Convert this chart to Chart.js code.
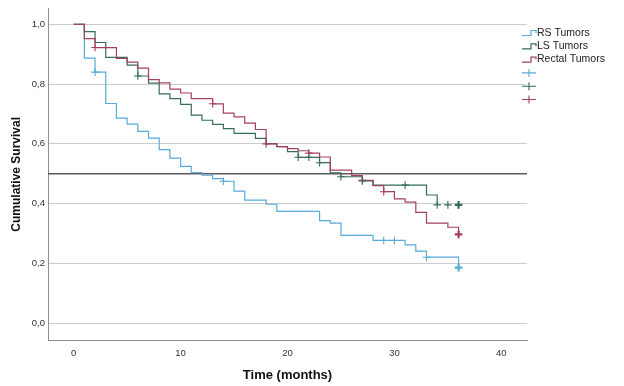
<!DOCTYPE html>
<html>
<head>
<meta charset="utf-8">
<script src="https://cdn.jsdelivr.net/npm/chart.js@4.4.1/dist/chart.umd.min.js"></script>
<style>
  html, body { margin: 0; padding: 0; background: #ffffff; }
  #c { display: block; }
</style>
</head>
<body>
<canvas id="c" width="624" height="386"></canvas>
<script>
// ---- Data ----
const seriesNames = ['RS Tumors', 'LS Tumors', 'Rectal Tumors'];

const rsTimes = [0, 1, 2, 3, 4, 5, 6, 7, 8, 9, 10, 11, 12, 13, 14, 15, 16, 18, 19, 23, 24, 25, 28, 31, 32, 33, 36];
const rsSurv  = [1.0, 0.887, 0.840, 0.735, 0.686, 0.666, 0.642, 0.619, 0.581, 0.552, 0.525, 0.504, 0.495, 0.484, 0.475, 0.442, 0.412, 0.398, 0.374, 0.343, 0.335, 0.294, 0.277, 0.262, 0.241, 0.221, 0.186];
const rsCensored = [2, 14, 29, 30, 33, 36];

const lsTimes = [0, 1, 2, 3, 5, 6, 7, 8, 9, 10, 11, 12, 13, 14, 15, 17, 18, 19, 20, 21, 23, 24, 25, 27, 28, 33, 34];
const lsSurv  = [1.0, 0.975, 0.939, 0.889, 0.863, 0.827, 0.803, 0.767, 0.751, 0.732, 0.696, 0.679, 0.665, 0.651, 0.635, 0.618, 0.601, 0.591, 0.574, 0.555, 0.537, 0.503, 0.490, 0.476, 0.462, 0.429, 0.396];
const lsCensored = [6, 21, 22, 23, 25, 27, 31, 34, 35, 36];

const reTimes = [0, 1, 2, 4, 5, 6, 7, 8, 9, 10, 11, 13, 14, 15, 16, 17, 18, 19, 20, 21, 22, 23, 24, 26, 27, 28, 29, 30, 31, 32, 33, 35, 36];
const reSurv  = [1.0, 0.952, 0.922, 0.886, 0.873, 0.853, 0.815, 0.804, 0.783, 0.770, 0.751, 0.734, 0.703, 0.690, 0.669, 0.648, 0.600, 0.591, 0.584, 0.577, 0.569, 0.556, 0.512, 0.494, 0.478, 0.460, 0.440, 0.416, 0.405, 0.371, 0.335, 0.321, 0.297];
const reCensored = [2, 13, 18, 22, 27, 29, 36];

const medianLevel = 0.5;
const xTickValues = [0, 10, 20, 30, 40];
const yTickValues = [0, 0.2, 0.4, 0.6, 0.8, 1.0];

// ---- Styling ----
const colors = ['#58aad9', '#356c5c', '#a3405f'];
const FONT = 'Arial, "Liberation Sans", Helvetica, sans-serif';

function stepPoints(times, surv) {
  return times.map((t, i) => ({ x: t, y: surv[i] }));
}
function survivalAt(times, surv, t) {
  let s = surv[0];
  for (let i = 0; i < times.length; i++) { if (times[i] <= t) s = surv[i]; }
  return s;
}
function censorPoints(times, surv, cens) {
  return cens.map(t => ({ x: t, y: survivalAt(times, surv, t) }));
}

const curveSets = [
  [rsTimes, rsSurv, rsCensored],
  [lsTimes, lsSurv, lsCensored],
  [reTimes, reSurv, reCensored]
];

const datasets = [];
// median reference line
const X_MIN = -2.4, X_MAX = 42.4;
datasets.push({
  label: '_ref',
  data: [{ x: X_MIN, y: medianLevel }, { x: X_MAX, y: medianLevel }],
  borderColor: '#5b5b5b',
  borderWidth: 1.5,
  pointRadius: 0,
  fill: false,
  order: 10
});
curveSets.forEach((cs, i) => {
  datasets.push({
    label: seriesNames[i],
    data: stepPoints(cs[0], cs[1]),
    stepped: true,
    borderColor: colors[i],
    borderWidth: 1.2,
    pointRadius: 0,
    fill: false,
    order: 5 - i
  });
});
curveSets.forEach((cs, i) => {
  const pts = censorPoints(cs[0], cs[1], cs[2]);
  datasets.push({
    label: '',
    data: pts,
    showLine: false,
    pointStyle: 'cross',
    pointRadius: 3.8,
    pointBorderColor: colors[i],
    pointBorderWidth: pts.map((p, k) => (k === pts.length - 1 ? 2.2 : 1.1)),
    borderColor: colors[i],
    order: 1
  });
});

// ---- Custom SPSS-like legend ----
const legendPlugin = {
  id: 'spssLegend',
  afterDraw(chart) {
    const ctx = chart.ctx;
    const x0 = 522, y0 = 33, dy = 13.3;
    ctx.save();
    ctx.font = '10.5px ' + FONT;
    ctx.textBaseline = 'middle';
    ctx.textAlign = 'left';
    for (let i = 0; i < 3; i++) {
      const y = y0 + i * dy;
      ctx.strokeStyle = colors[i];
      ctx.lineWidth = 1.2;
      ctx.beginPath();
      ctx.moveTo(x0, y + 2.5);
      ctx.lineTo(x0 + 9, y + 2.5);
      ctx.lineTo(x0 + 9, y - 2.5);
      ctx.lineTo(x0 + 14, y - 2.5);
      ctx.lineTo(x0 + 14, y);
      ctx.stroke();
      ctx.fillStyle = '#222';
      ctx.fillText(seriesNames[i], x0 + 15, y);
    }
    for (let i = 0; i < 3; i++) {
      const y = y0 + (i + 3) * dy;
      ctx.strokeStyle = colors[i];
      ctx.lineWidth = 1.1;
      ctx.beginPath();
      ctx.moveTo(x0, y);
      ctx.lineTo(x0 + 14, y);
      ctx.moveTo(x0 + 7, y - 4);
      ctx.lineTo(x0 + 7, y + 4);
      ctx.stroke();
    }
    ctx.restore();
  }
};

const tickFont = { family: FONT, size: 9.5 };

new Chart(document.getElementById('c'), {
  type: 'line',
  data: { datasets },
  options: {
    responsive: false,
    animation: false,
    events: [],
    layout: { padding: { top: 5, right: 97, left: 0, bottom: 0 } },
    plugins: { legend: { display: false }, tooltip: { enabled: false } },
    scales: {
      x: {
        type: 'linear',
        min: X_MIN,
        max: X_MAX,
        afterBuildTicks: s => { s.ticks = xTickValues.map(v => ({ value: v })); },
        afterFit: s => { s.height = 46; },
        grid: { display: false, drawTicks: false },
        border: { display: true, color: '#8f8f8f', width: 1 },
        ticks: { padding: 8, font: tickFont, color: '#333', maxRotation: 0, callback: v => String(v) },
        title: { display: true, text: 'Time (months)', font: { family: FONT, size: 13, weight: 'bold' }, color: '#111', padding: { top: 0, bottom: 3 } }
      },
      y: {
        type: 'linear',
        min: -0.056,
        max: 1.052,
        afterBuildTicks: s => { s.ticks = yTickValues.map(v => ({ value: v })); },
        afterFit: s => { s.width = 48; },
        grid: { color: '#cccccc', lineWidth: 1, drawTicks: false },
        border: { display: true, color: '#8f8f8f', width: 1 },
        ticks: { padding: 3, font: tickFont, color: '#333', callback: v => Number(v).toFixed(1).replace('.', ',') },
        title: { display: true, text: 'Cumulative Survival', font: { family: FONT, size: 12, weight: 'bold' }, color: '#111', padding: { top: 9, bottom: 0 } }
      }
    }
  },
  plugins: [legendPlugin]
});
</script>
</body>
</html>
